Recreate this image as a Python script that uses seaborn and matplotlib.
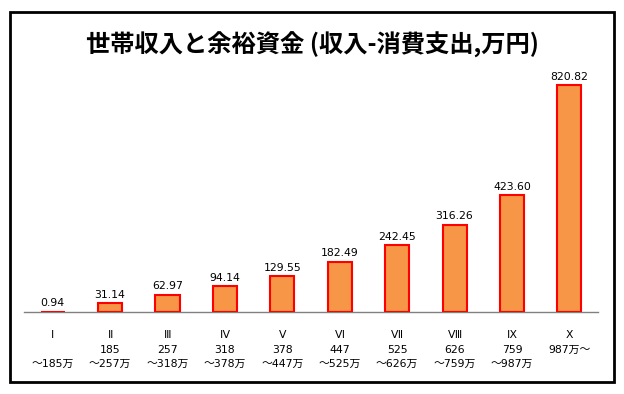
import matplotlib
matplotlib.use("Agg")
import matplotlib.pyplot as plt
import seaborn as sns
import pandas as pd
from matplotlib.patches import Rectangle

# データ
classes = ["Ⅰ", "Ⅱ", "Ⅲ", "Ⅳ", "Ⅴ", "Ⅵ", "Ⅶ", "Ⅷ", "Ⅸ", "Ⅹ"]
lower = ["", "185", "257", "318", "378", "447", "525", "626", "759", "987万～"]
upper = ["～185万", "～257万", "～318万", "～378万", "～447万", "～525万", "～626万", "～759万", "～987万", ""]
surplus = [0.94, 31.14, 62.97, 94.14, 129.55, 182.49, 242.45, 316.26, 423.60, 820.82]

df = pd.DataFrame({"class": classes, "surplus": surplus})

sns.set_theme(style="white")
plt.rcParams["font.family"] = ["Noto Sans CJK JP", "DejaVu Sans"]
num_font = ["DejaVu Sans", "Noto Sans CJK JP"]

fig = plt.figure(figsize=(6.24, 3.94), dpi=100)
ax = fig.add_axes([0.0385, 0.208, 0.92, 0.632])

sns.barplot(data=df, x="class", y="surplus", color="#F79646", width=0.42,
            edgecolor="#FF0000", linewidth=1.5, saturation=1, ax=ax, zorder=3)

for i, v in enumerate(surplus):
    ax.text(i, v + 12, f"{v:.2f}", ha="center", va="bottom", fontsize=7.8,
            family=num_font, color="black")

ax.set_xlim(-0.5, 9.5)
ax.set_ylim(0, 900)
ax.set_yticks([])
ax.set_xlabel("")
ax.set_ylabel("")
for s in ["top", "right", "left"]:
    ax.spines[s].set_visible(False)
ax.spines["bottom"].set_color("#808080")
ax.spines["bottom"].set_linewidth(1)
ax.spines["bottom"].set_zorder(1)

labels = [f"{c}\n{lo}\n{up}" for c, lo, up in zip(classes, lower, upper)]
ax.set_xticks(range(len(classes)))
ax.set_xticklabels(labels, fontsize=7.8, linespacing=1.55, va="top", family=num_font,
                   color="black")
ax.tick_params(axis="x", length=0, pad=13)

fig.text(0.5, 0.885, "世帯収入と余裕資金 (収入-消費支出,万円)", ha="center", va="center",
         fontsize=17.5, fontweight="bold", color="black")

# 外枠
fig.patches.append(Rectangle((10 / 624, 12 / 394), 604 / 624, 370 / 394,
                             transform=fig.transFigure, fill=False,
                             edgecolor="black", linewidth=2))

fig.savefig("out.png", dpi=100)
